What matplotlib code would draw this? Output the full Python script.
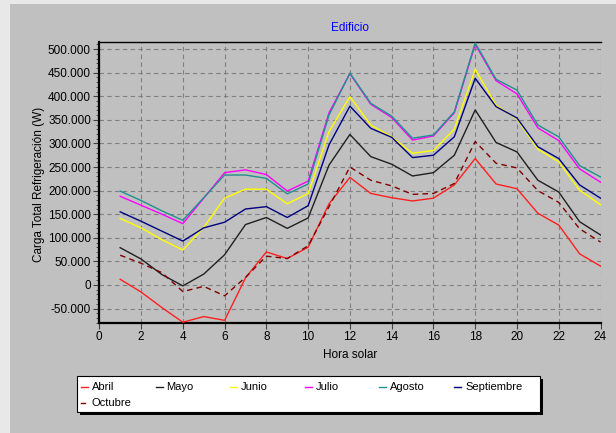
import matplotlib
matplotlib.use("Agg")
import matplotlib.pyplot as plt
from matplotlib.patches import Rectangle
from matplotlib.lines import Line2D
from matplotlib.ticker import MultipleLocator, FuncFormatter

plt.rcParams['font.family'] = ['Liberation Sans', 'DejaVu Sans']

hours = list(range(1, 25))
series_names = ["Abril", "Mayo", "Junio", "Julio", "Agosto", "Septiembre", "Octubre"]
abril = [12, -15, -48, -79, -67, -75, 15, 70, 56, 80, 172, 228,
         194, 185, 178, 184, 212, 268, 214, 204, 152, 127, 66, 40]
mayo = [79, 55, 22, -2, 23, 64, 128, 143, 120, 142, 254, 319,
        272, 256, 231, 238, 275, 371, 302, 282, 222, 197, 134, 106]
junio = [141, 121, 96, 74, 122, 184, 203, 203, 172, 194, 325, 399,
         339, 314, 279, 285, 330, 457, 381, 352, 288, 261, 201, 170]
julio = [188, 169, 150, 130, 184, 238, 244, 234, 199, 220, 365, 448,
         383, 355, 307, 316, 365, 510, 433, 405, 333, 306, 246, 218]
agosto = [199, 179, 157, 137, 185, 233, 233, 226, 193, 214, 360, 449,
          385, 358, 311, 318, 367, 513, 436, 413, 339, 314, 253, 229]
septiembre = [155, 135, 114, 93, 121, 133, 161, 166, 143, 168, 297, 379,
              332, 313, 270, 275, 314, 438, 378, 354, 293, 268, 212, 184]
octubre = [63, 46, 26, -14, -3, -23, 16, 61, 56, 83, 166, 250,
           222, 210, 192, 194, 215, 304, 258, 248, 200, 175, 119, 91]
all_values = [abril, mayo, junio, julio, agosto, septiembre, octubre]
colors = ["#ff2020", "#202020", "#ffff00", "#ff00ff", "#209090", "#000080", "#800000"]
styles = ["-", "-", "-", "-", "-", "-", (0, (4, 3))]

W, H = 616, 433
fig = plt.figure(figsize=(W / 100, H / 100), dpi=100)
fig.patch.set_facecolor("#e8e8e8")
fig.add_artist(Rectangle((10 / W, 0), 1, 1 - 4 / H, transform=fig.transFigure,
                         facecolor="#c0c0c0", edgecolor="none", zorder=0))

def fx(px):
    return px / W

def fy(py):
    return 1 - py / H

ax_l, ax_r, ax_t, ax_b = 99.3, 600.5, 42, 322.7
ax = fig.add_axes([fx(ax_l), fy(ax_b), (ax_r - ax_l) / W, (ax_b - ax_t) / H])
ax.set_facecolor("#c0c0c0")

for vals, c, ls in zip(all_values, colors, styles):
    ax.plot(hours, [v * 1000 for v in vals], color=c, lw=1.0, linestyle=ls, zorder=3)

ax.set_xlim(0, 24)
ax.set_ylim(-80000, 515000)
ax.xaxis.set_major_locator(MultipleLocator(2))
ax.yaxis.set_major_locator(MultipleLocator(50000))
ax.yaxis.set_minor_locator(MultipleLocator(10000))
ax.yaxis.set_major_formatter(FuncFormatter(lambda v, p: f"{v:,.0f}".replace(",", ".")))
ax.grid(True, which="major", color="#808080", linestyle=(0, (4, 3)), lw=0.8, zorder=1)
ax.tick_params(axis="both", which="major", direction="out", length=4, width=0.8,
               labelsize=8.5, pad=2, color="#404040")
ax.tick_params(axis="y", which="minor", direction="out", length=2, width=0.6, color="#404040")

for s in ["left", "bottom"]:
    ax.spines[s].set_linewidth(1.6)
    ax.spines[s].set_color("black")
ax.spines["top"].set_linewidth(1.0)
ax.spines["right"].set_visible(False)

ax.set_xlabel("Hora solar", fontsize=8.5)
ax.xaxis.set_label_coords(0.5, -0.093)
ax.set_ylabel("Carga Total Refrigeración (W)", fontsize=8.5)
ax.yaxis.set_label_coords(-0.108, 0.494)

fig.text(fx(350), fy(28), "Edificio", color="#0000ff", ha="center", va="center", fontsize=8.5)

# legend box
lx0, lx1, ly0, ly1 = 77, 540, 376, 412
fig.add_artist(Rectangle((fx(lx0 + 3), fy(ly1 + 3)), (lx1 - lx0) / W, (ly1 - ly0) / H,
                         transform=fig.transFigure, facecolor="black", edgecolor="none", zorder=4))
fig.add_artist(Rectangle((fx(lx0), fy(ly1)), (lx1 - lx0) / W, (ly1 - ly0) / H,
                         transform=fig.transFigure, facecolor="white", edgecolor="black",
                         lw=0.8, zorder=5))
for i, (name, c) in enumerate(zip(series_names, colors)):
    row, col = divmod(i, 6)
    x0 = 81 + col * 74.6
    y0 = 386.5 + row * 16.5
    length = 7 if i < 6 else 4
    fig.add_artist(Line2D([fx(x0), fx(x0 + length)], [fy(y0), fy(y0)], color=c, lw=1.0,
                          transform=fig.transFigure, zorder=6))
    fig.text(fx(x0 + 11), fy(y0), name, ha="left", va="center", fontsize=8, zorder=6)

fig.savefig("out.png", dpi=100, facecolor=fig.get_facecolor())
